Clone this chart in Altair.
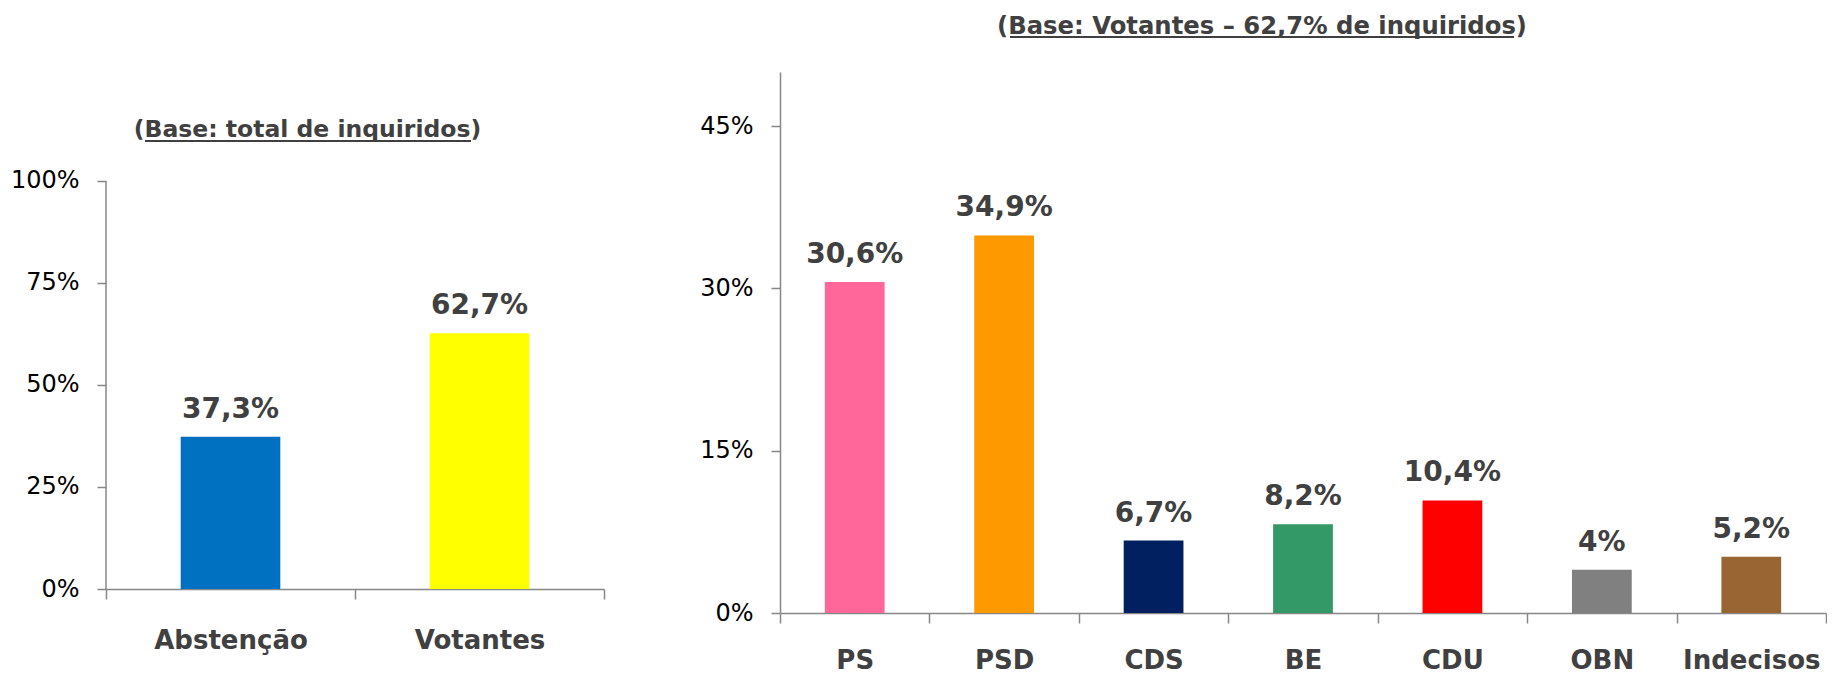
import altair as alt
import pandas as pd

# ---------------- data ----------------
left_cats = ["Abstenção", "Votantes"]
left_vals = [37.3, 62.7]
left_colors = ["#0070C0", "#FFFF00"]
left_ticks = [0, 25, 50, 75, 100]
left_title = "Base: total de inquiridos"

right_cats = ["PS", "PSD", "CDS", "BE", "CDU", "OBN", "Indecisos"]
right_vals = [30.6, 34.9, 6.7, 8.2, 10.4, 4.0, 5.2]
right_colors = ["#FF6699", "#FF9900", "#002060", "#339966", "#FF0000", "#808080", "#996633"]
right_ticks = [0, 15, 30, 45]
right_title = "Base: Votantes – 62,7% de inquiridos"

FONT = "DejaVu Sans"
TXT = "#404040"
AX = "#878787"


def fmt(v):
    return f"{v:g}".replace(".", ",") + "%"


def panel(cats, vals, colors, ticks, ymax, w, h, title, tx, ty, tsize,
          ul_x1, ul_x2, ul_y, xpad, full_domain, domain_top):
    df = pd.DataFrame({"cat": cats, "val": vals, "label": [fmt(v) for v in vals]})
    x = alt.X("cat:N", sort=cats, scale=alt.Scale(paddingInner=0, paddingOuter=0),
              axis=alt.Axis(title=None, labelAngle=0, labelFont=FONT, labelFontSize=26,
                            labelFontWeight="bold", labelColor=TXT, tickBand="extent",
                            tickSize=10, tickColor=AX, tickWidth=1.5, domainColor=AX,
                            domainWidth=1.5, labelPadding=xpad, labelBaseline="alphabetic"))
    y = alt.Y("val:Q", scale=alt.Scale(domain=[0, ymax], nice=False, zero=True),
              axis=alt.Axis(values=ticks, title=None, grid=False,
                            labelExpr="datum.value + '%'", labelFont=FONT,
                            labelFontSize=24, labelColor="#000000", tickSize=9,
                            tickColor=AX, tickWidth=1.5, labelPadding=18,
                            domain=full_domain, domainColor=AX, domainWidth=1.5))
    base = alt.Chart(df)
    bars = base.mark_bar(width=alt.RelativeBandSize(0.4)).encode(
        x=x, y=y,
        color=alt.Color("cat:N", sort=cats,
                        scale=alt.Scale(domain=cats, range=colors), legend=None))
    labels = base.mark_text(dy=-19, baseline="alphabetic", font=FONT, fontSize=28,
                            fontWeight="bold", color=TXT).encode(
        x=alt.X("cat:N", sort=cats), y="val:Q", text="label:N")
    tdf = pd.DataFrame({"t": ["(" + title + ")"]})
    ttl = alt.Chart(tdf).mark_text(font=FONT, fontSize=tsize, fontWeight="bold",
                                   color=TXT, baseline="alphabetic", align="center").encode(
        x=alt.value(tx), y=alt.value(ty), text="t:N")
    ul = alt.Chart(tdf).mark_rule(color=TXT, strokeWidth=2).encode(
        x=alt.value(ul_x1), x2=alt.value(ul_x2), y=alt.value(ul_y))
    layers = [bars, labels, ttl, ul]
    if not full_domain:
        dom = alt.Chart(tdf).mark_rule(color=AX, strokeWidth=1.5).encode(
            x=alt.value(0), y=alt.datum(0), y2=alt.datum(domain_top))
        layers.append(dom)
    return alt.layer(*layers).properties(width=w, height=h)


left = panel(left_cats, left_vals, left_colors, left_ticks, 126.7, 498, 517,
             left_title, 201.5, 65, 23.5, 39, 365, 69, 49, False, 100)
right = panel(right_cats, right_vals, right_colors, right_ticks, 50, 1046, 541,
              right_title, 482, -38, 24.3, 230, 734, -35, 45, True, 50)

chart = alt.hconcat(left, right, spacing=94).resolve_scale(
    color="independent", x="independent", y="independent"
).properties(
    padding={"left": 2, "top": 7, "right": 0, "bottom": 0},
    background="white",
).configure_view(stroke=None)

chart.save("out.html", embed_options={"renderer": "svg", "actions": False})
